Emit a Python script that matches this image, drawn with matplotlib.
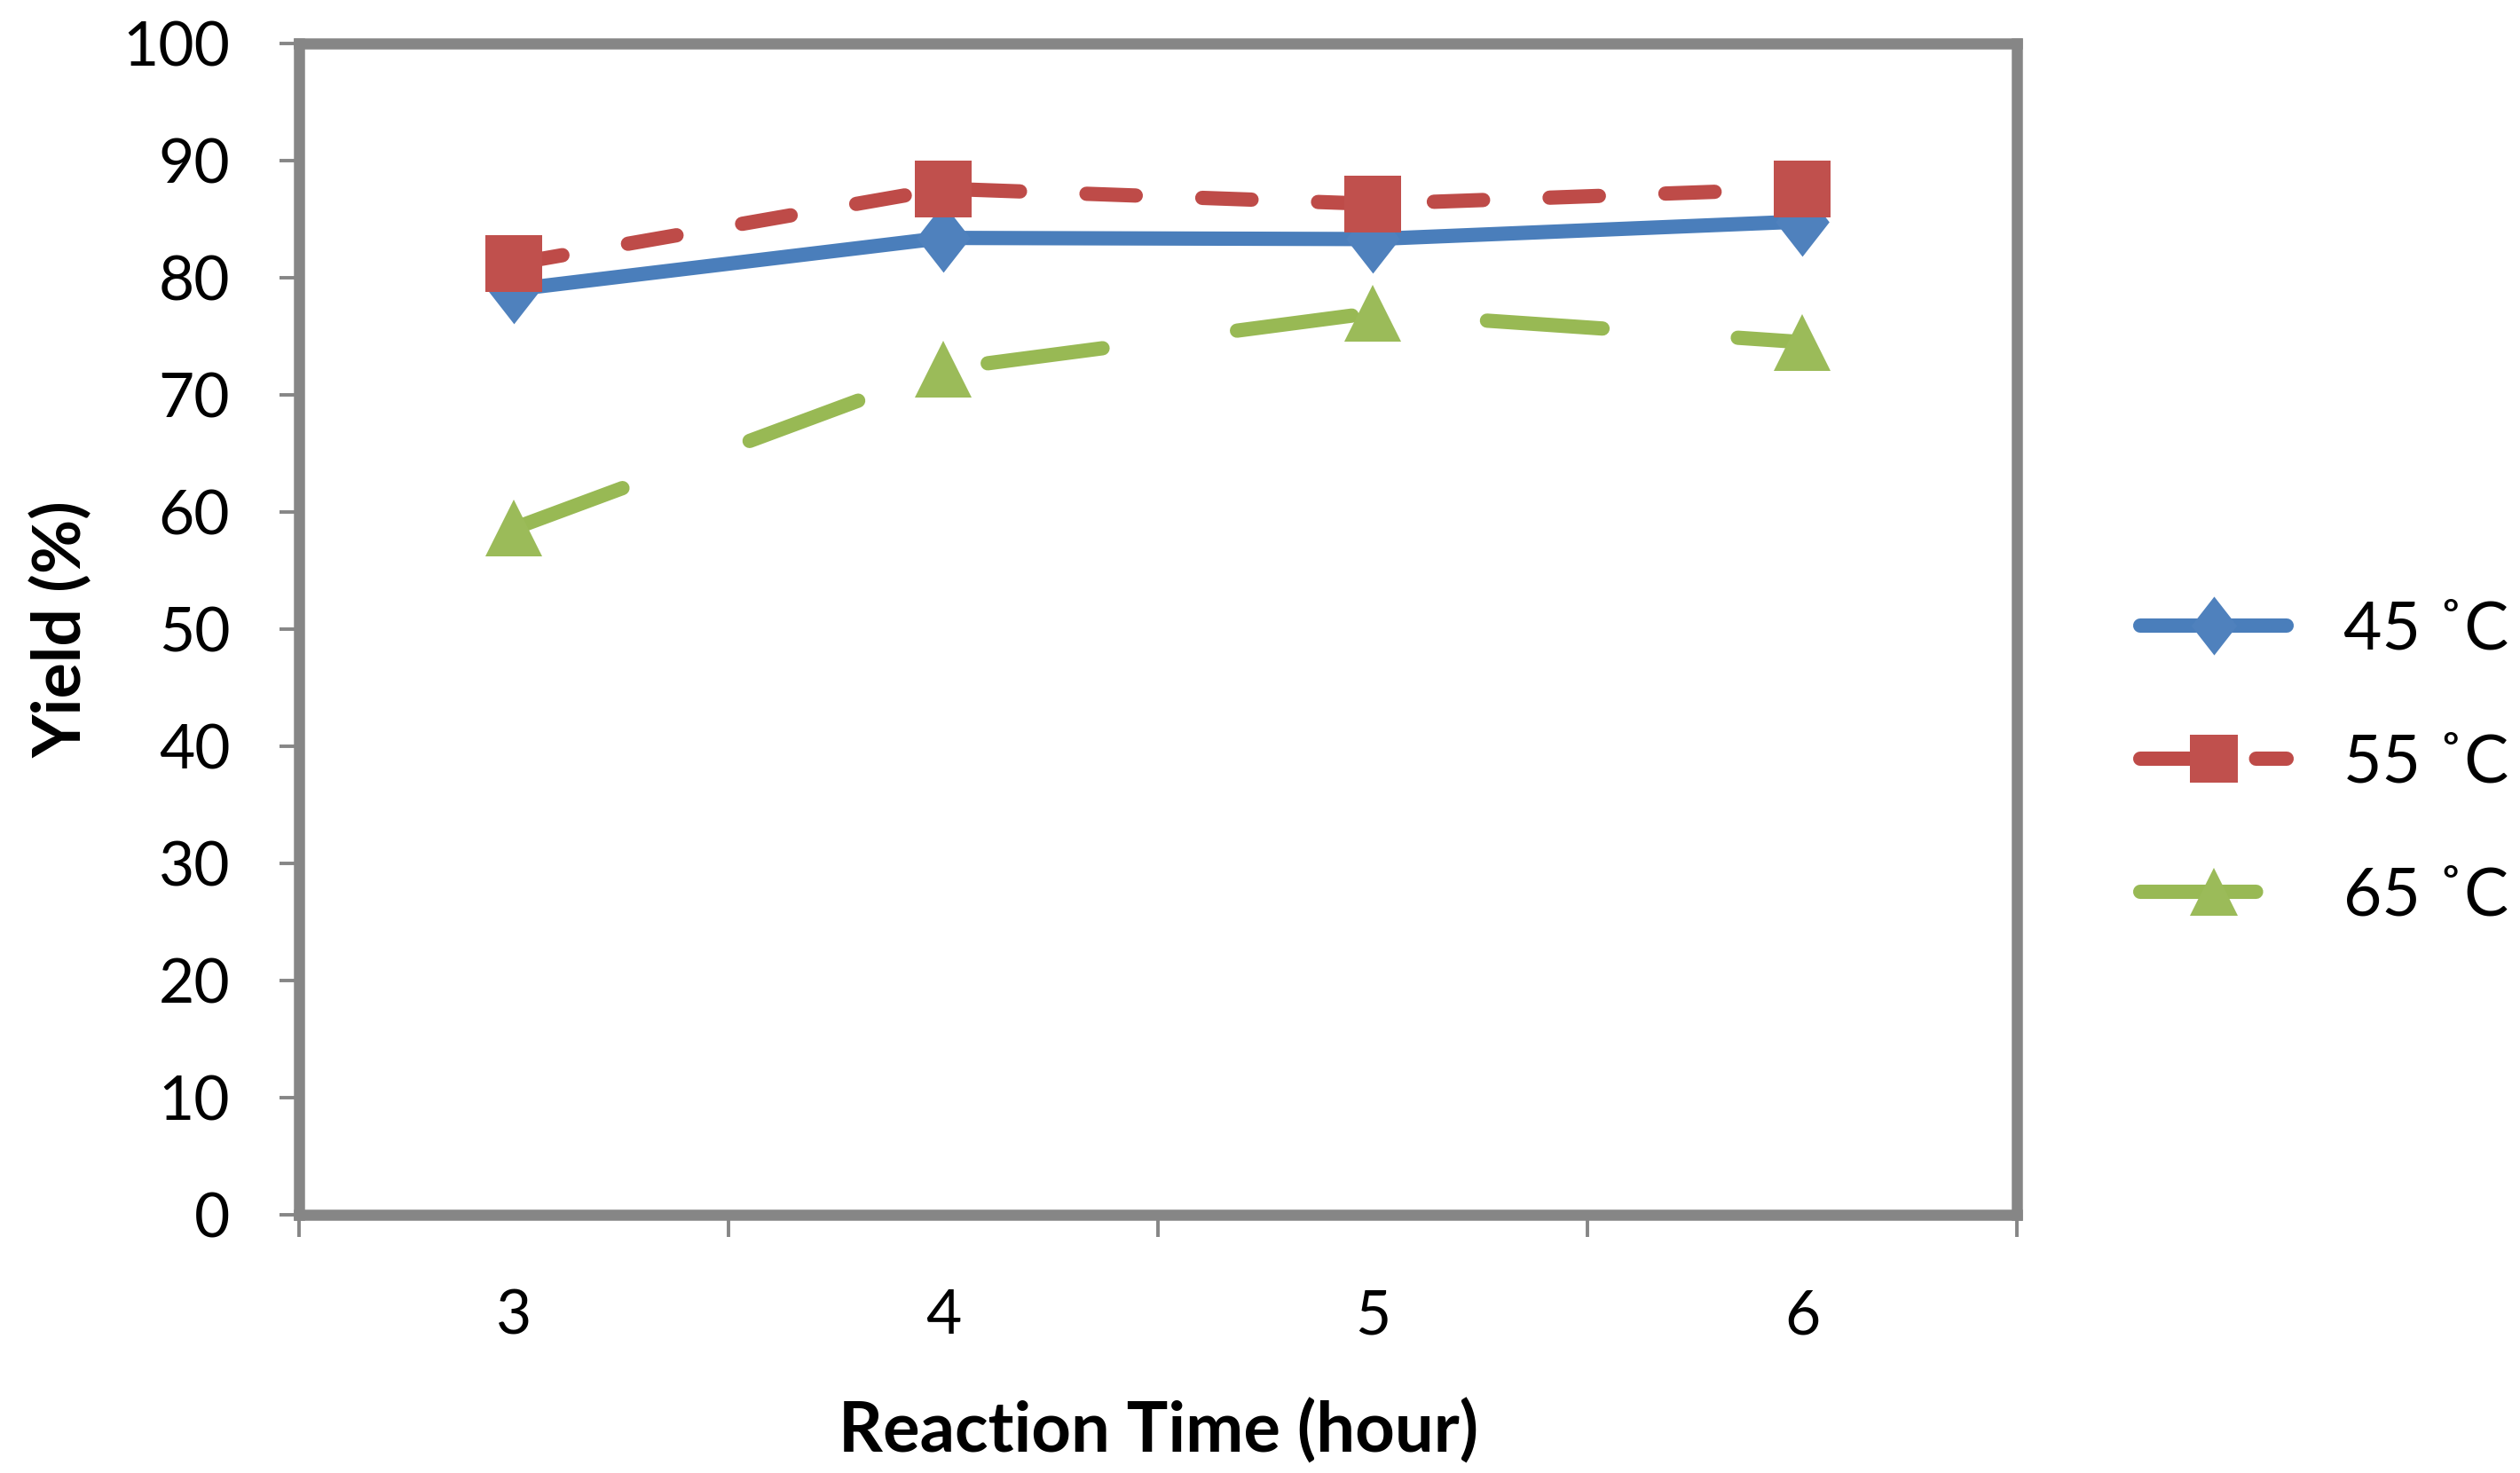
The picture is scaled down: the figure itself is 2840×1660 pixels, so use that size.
import matplotlib
matplotlib.use("Agg")
import matplotlib.pyplot as plt
from matplotlib.path import Path
from matplotlib.ticker import FixedLocator, NullFormatter, FixedFormatter

plt.rcParams['font.family'] = ['Lato', 'DejaVu Sans']
plt.rcParams['lines.scale_dashes'] = False

# data
hours = ["3", "4", "5", "6"]
yield_45 = [79.0, 83.4, 83.3, 84.8]
yield_55 = [81.2, 87.6, 86.3, 87.6]
yield_65 = [58.6, 72.2, 77.0, 74.5]
series_labels = ["45 ˚C", "55 ˚C", "65 ˚C"]
y_ticks = [0, 10, 20, 30, 40, 50, 60, 70, 80, 90, 100]

# Excel-style diamond, a bit taller than wide
tall_diamond = Path([(0, 1), (0.78, 0), (0, -1), (-0.78, 0), (0, 1)],
                    [Path.MOVETO, Path.LINETO, Path.LINETO, Path.LINETO, Path.CLOSEPOLY])

fig = plt.figure(figsize=(14.2, 8.3), dpi=200)
ax = fig.add_axes([0.1187, 0.1753, 0.8004 - 0.1187, 0.9705 - 0.1753])

xpos = list(range(len(hours)))
lw = 5.8

ax.plot(xpos, yield_45, color='#4A7EBB', lw=lw, solid_capstyle='round',
        marker=tall_diamond, markersize=28, markerfacecolor='#4F81BD', markeredgewidth=0,
        label=series_labels[0], zorder=3)
ax.plot(xpos, yield_55, color='#BE4B48', lw=lw, dashes=(20, 27), dash_capstyle='round',
        marker='s', markersize=23, markerfacecolor='#C0504D', markeredgewidth=0,
        label=series_labels[1], zorder=4)
ax.plot(xpos, yield_65, color='#98B954', lw=lw, dashes=(47, 55), dash_capstyle='round',
        marker='^', markersize=23, markerfacecolor='#9BBB59', markeredgewidth=0,
        label=series_labels[2], zorder=2)

ax.set_xlim(-0.5, len(hours) - 0.5)
ax.set_ylim(0, 100)

# category boundaries carry the tick marks, labels sit at the centres
ax.xaxis.set_major_locator(FixedLocator([i - 0.5 for i in range(len(hours) + 1)]))
ax.xaxis.set_major_formatter(NullFormatter())
ax.xaxis.set_minor_locator(FixedLocator(xpos))
ax.xaxis.set_minor_formatter(FixedFormatter(hours))
ax.tick_params(axis='x', which='major', direction='out', length=9, width=1.4, color='#868686')
ax.tick_params(axis='x', which='minor', length=0, pad=30, labelsize=25)

ax.set_yticks(y_ticks)
ax.tick_params(axis='y', direction='out', length=8, width=1.4, color='#868686', pad=20, labelsize=25)

for side in ['left', 'right', 'top', 'bottom']:
    ax.spines[side].set_color('#868686')
    ax.spines[side].set_linewidth(4.5)

ax.set_xlabel("Reaction Time (hour)", fontsize=28, fontweight='bold', labelpad=22)
ax.set_ylabel("Yield (%)", fontsize=27, fontweight='bold', labelpad=12)

fig.legend(loc='center left', bbox_to_anchor=(2412 / 2840, 1 - 860 / 1660),
           bbox_transform=fig.transFigure, frameon=False, fontsize=27,
           borderpad=0, borderaxespad=0, handlelength=2.2, handletextpad=0.85,
           labelspacing=1.08, markerscale=0.85)

fig.savefig("out.png", dpi=200, facecolor='white')
